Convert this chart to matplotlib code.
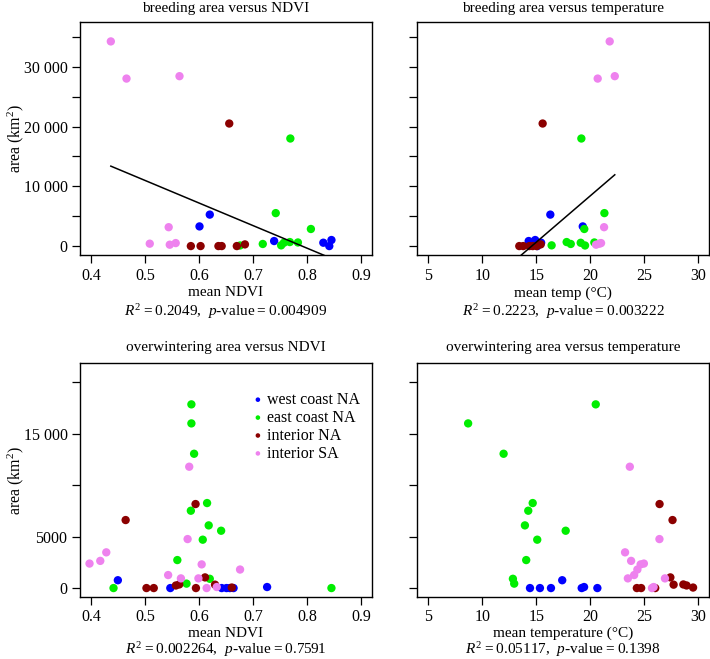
import numpy as np
import matplotlib
matplotlib.use("Agg")
import matplotlib.pyplot as plt

# Fonts: Times-like serif everywhere, italic R and p in the stats line
plt.rcParams['font.family'] = ['Liberation Serif', 'DejaVu Serif']
plt.rcParams['mathtext.fontset'] = 'custom'
plt.rcParams['mathtext.rm'] = 'Liberation Serif'
plt.rcParams['mathtext.it'] = 'Liberation Serif:italic'

# Step 1: data
regions = ['west coast NA', 'east coast NA', 'interior NA', 'interior SA']
colors = ['#0000ff', '#00ee00', '#8b0000', '#ee82ee']

# breeding range: mean NDVI, mean temp (deg C), area (km2)
b_ndvi_wc = [0.620, 0.601, 0.739, 0.830, 0.845, 0.841]
b_temp_wc = [16.3, 19.3, 14.3, 15.45, 14.9, 15.1]
b_area_wc = [5300, 3330, 890, 610, 1060, 50]

b_ndvi_ec = [0.769, 0.742, 0.807, 0.718, 0.752, 0.757, 0.768, 0.783, 0.676]
b_temp_ec = [19.17, 21.3, 19.44, 18.19, 16.42, 19.11, 17.81, 20.37, 19.51]
b_area_ec = [18000, 5550, 2900, 400, 170, 600, 720, 650, 150]

b_ndvi_in = [0.656, 0.585, 0.603, 0.636, 0.642, 0.670, 0.685]
b_temp_in = [15.59, 13.43, 13.8, 14.36, 15.04, 14.67, 15.41]
b_area_in = [20500, 50, 50, 50, 50, 50, 330]

b_ndvi_sa = [0.437, 0.466, 0.564, 0.544, 0.509, 0.546, 0.557]
b_temp_sa = [21.79, 20.68, 22.26, 21.27, 20.83, 20.53, 20.99]
b_area_sa = [34200, 28000, 28400, 3200, 450, 280, 550]

# overwintering range
w_ndvi_wc = [0.450, 0.547, 0.642, 0.651, 0.664, 0.726, 0.657]
w_temp_wc = [17.4, 14.42, 15.34, 16.36, 19.2, 19.42, 20.65]
w_area_wc = [760, 0, 0, 0, 0, 100, 0]

w_ndvi_ec = [0.586, 0.586, 0.591, 0.585, 0.615, 0.618, 0.641, 0.607, 0.560, 0.620, 0.577, 0.442, 0.845]
w_temp_ec = [20.5, 8.7, 11.98, 14.26, 14.67, 13.95, 17.72, 15.09, 14.07, 12.84, 12.96, np.nan, np.nan]
w_area_ec = [17850, 16000, 13050, 7515, 8260, 6090, 5570, 4700, 2720, 900, 430, 0, 0]

w_ndvi_in = [0.5937, 0.4644, 0.6112, 0.5635, 0.6297, 0.5573, 0.5029, 0.5164, 0.5944, 0.6607]
w_temp_in = [26.4, 27.6, 27.4, 28.6, 27.7, 28.9, 24.3, 24.7, 26.0, 29.5]
w_area_in = [8163, 6608, 1036, 350, 330, 250, 0, 0, 0, 50]

w_ndvi_sa = [0.582, 0.579, 0.4286, 0.4175, 0.3976, 0.605, 0.676, 0.543, 0.5666, 0.599, 0.6142, 0.6329]
w_temp_sa = [23.65, 26.39, 23.21, 23.77, 24.95, 24.65, 24.35, 24.05, 23.47, 26.9, 25.7, 25.85]
w_area_sa = [11790, 4760, 3470, 2640, 2380, 2300, 1800, 1263, 940, 940, 0, 100]

# fitted lines of the breeding panels (intercept, slope), as drawn in the figure
fit_ndvi = [29876, -37729]
fit_temp = [-22537, 1549]

# reported statistics for each panel
titles = ['breeding area versus NDVI', 'breeding area versus temperature',
          'overwintering area versus NDVI', 'overwintering area versus temperature']
xlabels = ['mean NDVI', 'mean temp (°C)', 'mean NDVI', 'mean temperature (°C)']
r2_vals = ['0.2049', '0.2223', '0.002264', '0.05117']
p_vals = ['0.004909', '0.003222', '0.7591', '0.1398']

ndvi_ticks = [0.4, 0.5, 0.6, 0.7, 0.8, 0.9]
temp_ticks = [5, 10, 15, 20, 25, 30]
b_yticks = [0, 5000, 10000, 15000, 20000, 25000, 30000, 35000]
b_ylabels = ['0', '', '10 000', '', '20 000', '', '30 000', '']
w_yticks = [0, 5000, 10000, 15000, 20000]
w_ylabels = ['0', '5000', '', '15 000', '']

# Step 2: figure and axes placed like the original
fig = plt.figure(figsize=(7.1, 6.59), dpi=100)
W, H = 710, 659
def add_ax(left, top, right, bottom):
    return fig.add_axes([left / W, 1 - bottom / H, (right - left) / W, (bottom - top) / H])

ax1 = add_ax(80, 22, 372, 255)
ax2 = add_ax(417.3, 22, 709.3, 255)
ax3 = add_ax(80, 363.3, 372, 596.7)
ax4 = add_ax(417.3, 363.3, 709.3, 596.7)
axes = [ax1, ax2, ax3, ax4]

b_x_ndvi = [b_ndvi_wc, b_ndvi_ec, b_ndvi_in, b_ndvi_sa]
b_x_temp = [b_temp_wc, b_temp_ec, b_temp_in, b_temp_sa]
b_y = [b_area_wc, b_area_ec, b_area_in, b_area_sa]
w_x_ndvi = [w_ndvi_wc, w_ndvi_ec, w_ndvi_in, w_ndvi_sa]
w_x_temp = [w_temp_wc, w_temp_ec, w_temp_in, w_temp_sa]
w_y = [w_area_wc, w_area_ec, w_area_in, w_area_sa]

panel_x = [b_x_ndvi, b_x_temp, w_x_ndvi, w_x_temp]
panel_y = [b_y, b_y, w_y, w_y]

# Step 3: scatter points, by region
handles = []
for i, ax in enumerate(axes):
    for xs, ys, col, lab in zip(panel_x[i], panel_y[i], colors, regions):
        sc = ax.scatter(xs, ys, s=36, color=col, edgecolors='none', label=lab, zorder=3)
        if i == 2:
            handles.append(sc)

# Step 4: regression lines over the range of the data
for ax, xs_list, fit in [(ax1, b_x_ndvi, fit_ndvi), (ax2, b_x_temp, fit_temp)]:
    x_all = np.concatenate([np.asarray(v, float) for v in xs_list])
    xx = np.array([x_all.min(), x_all.max()])
    ax.plot(xx, fit[0] + fit[1] * xx, color='black', lw=1.1, zorder=4)

# Step 5: axes styling
for i, ax in enumerate(axes):
    if i in (0, 2):
        ax.set_xlim(0.38, 0.92)
        ax.set_xticks(ndvi_ticks)
        ax.set_xticklabels([f'{t:.1f}' for t in ndvi_ticks])
    else:
        ax.set_xlim(4, 31)
        ax.set_xticks(temp_ticks)
        ax.set_xticklabels([str(t) for t in temp_ticks])
    if i < 2:
        ax.set_ylim(-1440, 37440)
        ax.set_yticks(b_yticks)
        ax.set_yticklabels(b_ylabels if i == 0 else [''] * len(b_yticks))
    else:
        ax.set_ylim(-840, 21840)
        ax.set_yticks(w_yticks)
        ax.set_yticklabels(w_ylabels if i == 2 else [''] * len(w_yticks))
    ax.tick_params(direction='out', length=6, width=0.9, labelsize=11.5, pad=3, colors='black')
    for sp in ax.spines.values():
        sp.set_linewidth(1.0)

    below = [0.163, 0.243] if i < 2 else [0.157, 0.226]
    ax.text(0.5, 1.06 if i < 2 else 1.067, titles[i], transform=ax.transAxes,
            ha='center', va='center', fontsize=11)
    ax.text(0.5, -below[0], xlabels[i], transform=ax.transAxes,
            ha='center', va='center', fontsize=11)
    ax.text(0.5, -below[1], f'$R^2$\u2009=\u2009{r2_vals[i]},  $p$-value\u2009=\u2009{p_vals[i]}',
            transform=ax.transAxes, ha='center', va='center', fontsize=11)
    if i in (0, 2):
        ax.text(-0.22, 0.5, 'area (km$^2$)', transform=ax.transAxes, rotation=90,
                ha='center', va='center', fontsize=11.5)

# Step 6: legend in the overwintering NDVI panel
ax3.legend(handles=handles, loc='upper left', bbox_to_anchor=(0.56, 0.905),
           frameon=False, fontsize=11.5, markerscale=0.55, handletextpad=0.05,
           handlelength=1.0, labelspacing=0.12, borderaxespad=0)

fig.savefig('out.png', dpi=100)
